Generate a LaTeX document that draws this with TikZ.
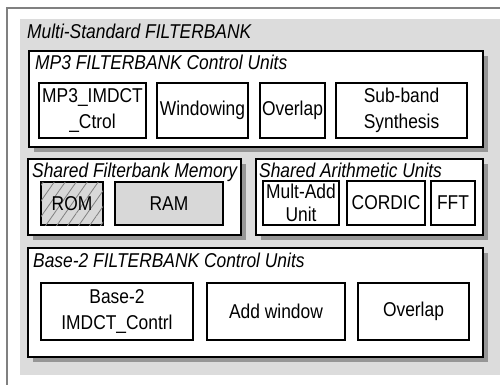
\documentclass[tikz,border=0pt]{standalone}
\usepackage{fontspec}
\setmainfont{Liberation Sans}[FakeStretch=0.87]
\usepackage{tikz}
\usetikzlibrary{shadows,patterns.meta}

\definecolor{panelgray}{RGB}{220,220,220}
\definecolor{memgray}{RGB}{216,216,216}
\definecolor{framegray}{RGB}{128,128,128}
\definecolor{shadowgray}{RGB}{150,150,150}

\tikzset{
  group/.style={draw=black, line width=1.3pt, fill=white,
    drop shadow={shadow xshift=5pt, shadow yshift=-5pt, fill=shadowgray, opacity=1}},
  unit/.style={draw=black, line width=1.1pt, fill=white, inner sep=1pt,
    align=center, font=\fontsize{20}{26}\selectfont},
  grouptitle/.style={anchor=base west, inner sep=0pt,
    font=\fontsize{20}{22}\selectfont\itshape}
}

\begin{document}
\begin{tikzpicture}[x=1pt,y=-1pt]
\useasboundingbox (0,0) rectangle (500,385);

% Outer frame and grey panel
\fill[white] (0,0) rectangle (500,385);
\draw[framegray, line width=1.5pt] (7,385) -- (7,8) -- (500,8);
\fill[panelgray] (20,19) rectangle (500,375);
\node[grouptitle] (title) at (27,39) {Multi-Standard FILTERBANK};

% MP3 control units
\node[group, minimum width=454pt, minimum height=96pt] (mp3) at (256,99) {};
\node[grouptitle] (mp3title) at (35,70) {MP3 FILTERBANK Control Units};
\node[unit, minimum width=107pt, minimum height=55pt] (mp3ctrl) at (92.5,110.5) {MP3\_IMDCT\\\_Ctrol};
\node[unit, minimum width=91pt, minimum height=55pt] (win) at (202.5,110.5) {Windowing};
\node[unit, minimum width=65pt, minimum height=55pt] (ovl) at (292.5,110.5) {Overlap};
\node[unit, minimum width=131pt, minimum height=55pt] (sbs) at (401.5,110.5) {Sub-band\\Synthesis};

% Shared memory
\node[group, minimum width=213pt, minimum height=76pt] (mem) at (134.5,197) {};
\node[grouptitle] (memtitle) at (32,177) {Shared Filterbank Memory};
\node[unit, fill=memgray, minimum width=62pt, minimum height=43pt,
  postaction={pattern={Lines[angle=55, distance=9pt, line width=0.8pt]}, pattern color=gray}] (rom) at (72,203.5) {};
\node[inner sep=0pt, font=\fontsize{20}{26}\selectfont] (romtext) at (rom) {ROM};
\node[unit, fill=memgray, minimum width=108pt, minimum height=43pt] (ram) at (169,203.5) {RAM};

% Shared arithmetic
\node[group, minimum width=227pt, minimum height=76pt] (arith) at (369.5,197) {};
\node[grouptitle] (arithtitle) at (259,177) {Shared Arithmetic Units};
\node[unit, minimum width=76pt, minimum height=44pt, font=\fontsize{20}{23}\selectfont] (mac) at (301,203) {Mult-Add\\Unit};
\node[unit, minimum width=78pt, minimum height=44pt] (cordic) at (386,203) {CORDIC};
\node[unit, minimum width=44pt, minimum height=44pt] (fft) at (453,203) {FFT};

% Base-2 control units
\node[group, minimum width=455pt, minimum height=109pt] (base) at (255.5,302.5) {};
\node[grouptitle] (basetitle) at (33,267) {Base-2 FILTERBANK Control Units};
\node[unit, minimum width=152pt, minimum height=57pt] (basectrl) at (117,311.5) {Base-2\\IMDCT\_Contrl};
\node[unit, minimum width=138pt, minimum height=57pt] (addwin) at (276,311.5) {Add window};
\node[unit, minimum width=111pt, minimum height=57pt] (ovl2) at (413.5,311.5) {Overlap};
\end{tikzpicture}
\end{document}
